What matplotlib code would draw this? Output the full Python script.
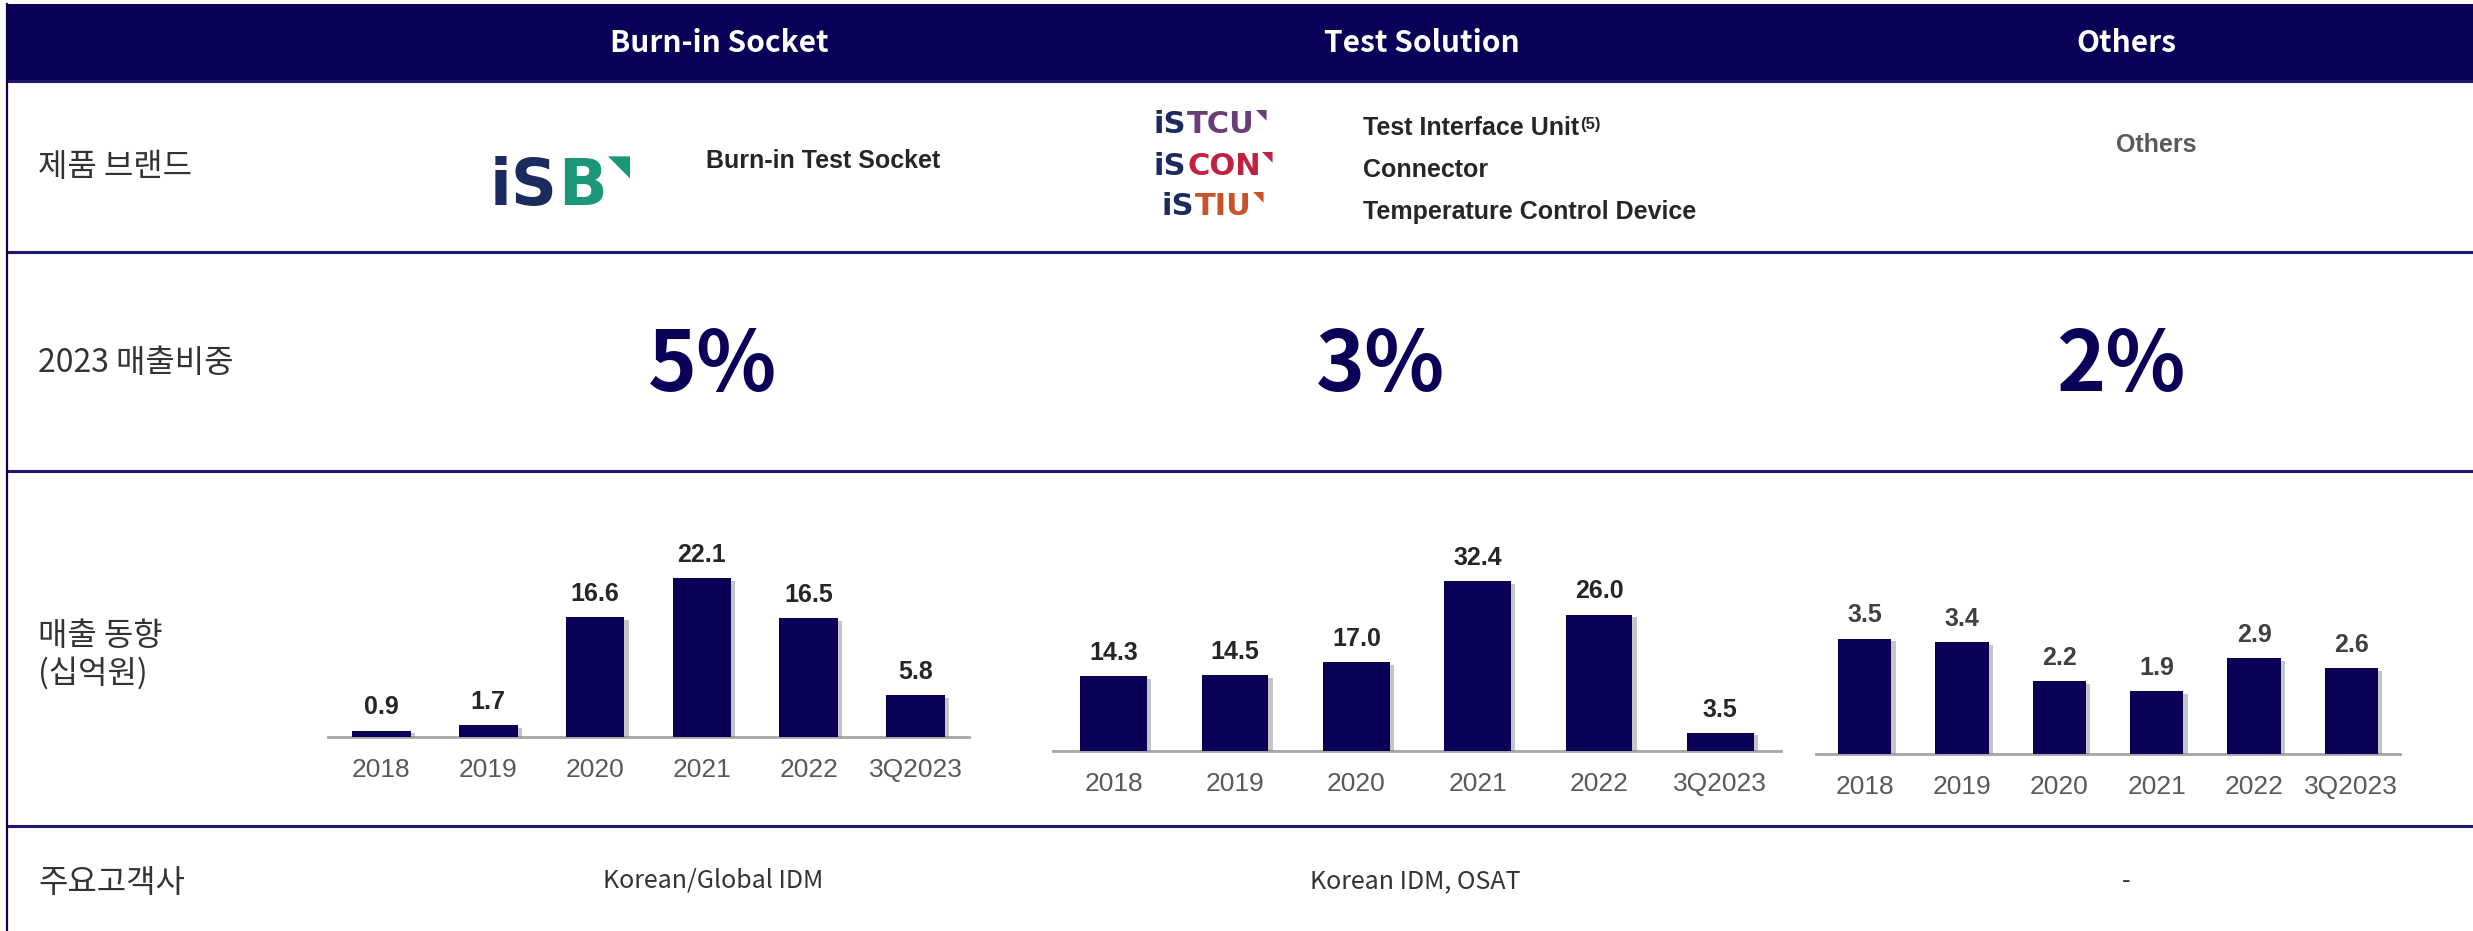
import matplotlib
matplotlib.use("Agg")
import matplotlib.pyplot as plt
import matplotlib.patheffects as pe
from matplotlib.patches import Rectangle

# data
years = ['2018', '2019', '2020', '2021', '2022', '3Q2023']
burnin_sales = [0.9, 1.7, 16.6, 22.1, 16.5, 5.8]
test_sales = [14.3, 14.5, 17.0, 32.4, 26.0, 3.5]
others_sales = [3.5, 3.4, 2.2, 1.9, 2.9, 2.6]

segments = ['Burn-in Socket', 'Test Solution', 'Others']
share_2023 = ['5%', '3%', '2%']
customers = ['Korean/Global IDM', 'Korean IDM, OSAT', '-']
row_labels = ['제품 브랜드', '2023 매출비중', '매출 동향\n(십억원)', '주요고객사']
ts_items = ['Test Interface Unit', 'Connector', 'Temperature Control Device']

W, H = 2473, 931
NAVY = '#0B0057'
KR = 'Noto Sans CJK KR'
ARIAL = 'Liberation Sans'

fig = plt.figure(figsize=(W / 100, H / 100), dpi=100, facecolor='white')
bg = fig.add_axes([0, 0, 1, 1])
bg.set_xlim(0, W)
bg.set_ylim(H, 0)
bg.axis('off')

# header band + table lines
bg.add_patch(Rectangle((7, 4), W - 7, 77, color=NAVY, lw=0))
for y in [81, 252, 471, 826]:
    bg.plot([7, W], [y, y], color='#1E1870', lw=2.2, solid_capstyle='butt')
bg.plot([7.5, 7.5], [4, H], color=NAVY, lw=1.6)

col_x = [719, 1422, 2126]
for x, s in zip(col_x, segments):
    bg.text(x, 43, s, color='white', fontsize=21.5, fontweight='bold',
            family=KR, ha='center', va='center')

# row labels
for y, s in zip([167, 363, 655, 883], row_labels):
    bg.text(38, y, s, fontsize=23, family=KR, color='#333333',
            ha='left', va='center', linespacing=1.2)

# brand row: logos drawn as text
def logo(x, y, rest, rest_color, size):
    t = bg.text(x, y, 'iS', fontsize=size, fontweight='bold', family='DejaVu Sans',
                color='#1B2B5E', ha='left', va='baseline')
    r = bg.annotate(rest, xy=(1, 0), xycoords=t, fontsize=size, fontweight='bold',
                    family='DejaVu Sans', color=rest_color, ha='left', va='bottom',
                    xytext=(0.5, 0), textcoords='offset points')
    bg.annotate('◥', xy=(1, 1), xycoords=r, fontsize=size * 0.45,
                family='DejaVu Sans', color=rest_color, ha='left', va='top',
                xytext=(0.5, 2), textcoords='offset points')

logo(490, 205, 'B', '#1C9678', 46)
logo(1154, 133, 'TCU', '#6A3D78', 22)
logo(1154, 175, 'CON', '#C0213F', 22)
logo(1162, 215, 'TIU', '#C9522B', 22)

bg.text(706, 161, 'Burn-in Test Socket', fontsize=18, fontweight='bold',
        family=ARIAL, color='#262626', ha='left', va='center')
for y, s in zip([128, 170, 212], ts_items):
    t = bg.text(1363, y, s, fontsize=18, fontweight='bold', family=ARIAL,
                color='#262626', ha='left', va='center')
    if s == 'Test Interface Unit':
        bg.annotate('(5)', xy=(1, 0.95), xycoords=t, fontsize=12, fontweight='bold',
                    family=ARIAL, color='#262626', ha='left', va='top',
                    xytext=(0.5, 0), textcoords='offset points')
bg.text(2156, 145, 'Others', fontsize=18, fontweight='bold', family=ARIAL,
        color='#595959', ha='center', va='center')

# 2023 share
for x, s in zip([713, 1381, 2121], share_2023):
    bg.text(x, 366, s, fontsize=60, fontweight='bold', family=KR, color=NAVY,
            ha='center', va='center')

# customers
for x, s in zip([713, 1415, 2126], customers):
    bg.text(x, 881, s, fontsize=18, family=KR, color='#333333',
            ha='center', va='center')

# bar charts: (left px, right px, baseline px, px per unit)
charts = [
    (burnin_sales, 328, 969, 737, 7.2, '#262626'),
    (test_sales, 1053, 1781, 751, 5.25, '#262626'),
    (others_sales, 1816, 2400, 754, 33.0, '#404040'),
]
AX_H = 260
for vals, x0, x1, base, ppu, lab_col in charts:
    ax = fig.add_axes([x0 / W, 1 - base / H, (x1 - x0) / W, AX_H / H])
    ax.patch.set_alpha(0)
    xs = range(len(years))
    bars = ax.bar(xs, vals, width=0.55, color=NAVY, zorder=3)
    for b in bars:
        b.set_path_effects([pe.SimplePatchShadow(offset=(3, -2), shadow_rgbFace='#7F7F7F',
                                                 alpha=0.45), pe.Normal()])
    for i, v in enumerate(vals):
        ax.annotate(f'{v:.1f}', (i, v), xytext=(0, 8), textcoords='offset points',
                    ha='center', va='bottom', fontsize=18, fontweight='bold',
                    family=ARIAL, color=lab_col)
    ax.set_xlim(-0.5, len(years) - 0.5)
    ax.set_ylim(0, AX_H / ppu)
    ax.set_xticks(list(xs))
    ax.set_xticklabels(years, fontsize=19, family=ARIAL, color='#595959')
    ax.tick_params(axis='x', length=0, pad=15)
    ax.set_yticks([])
    for sp in ['top', 'left', 'right']:
        ax.spines[sp].set_visible(False)
    ax.spines['bottom'].set_color('#A6A6A6')
    ax.spines['bottom'].set_linewidth(2)

fig.savefig('out.png', dpi=100, facecolor='white')
